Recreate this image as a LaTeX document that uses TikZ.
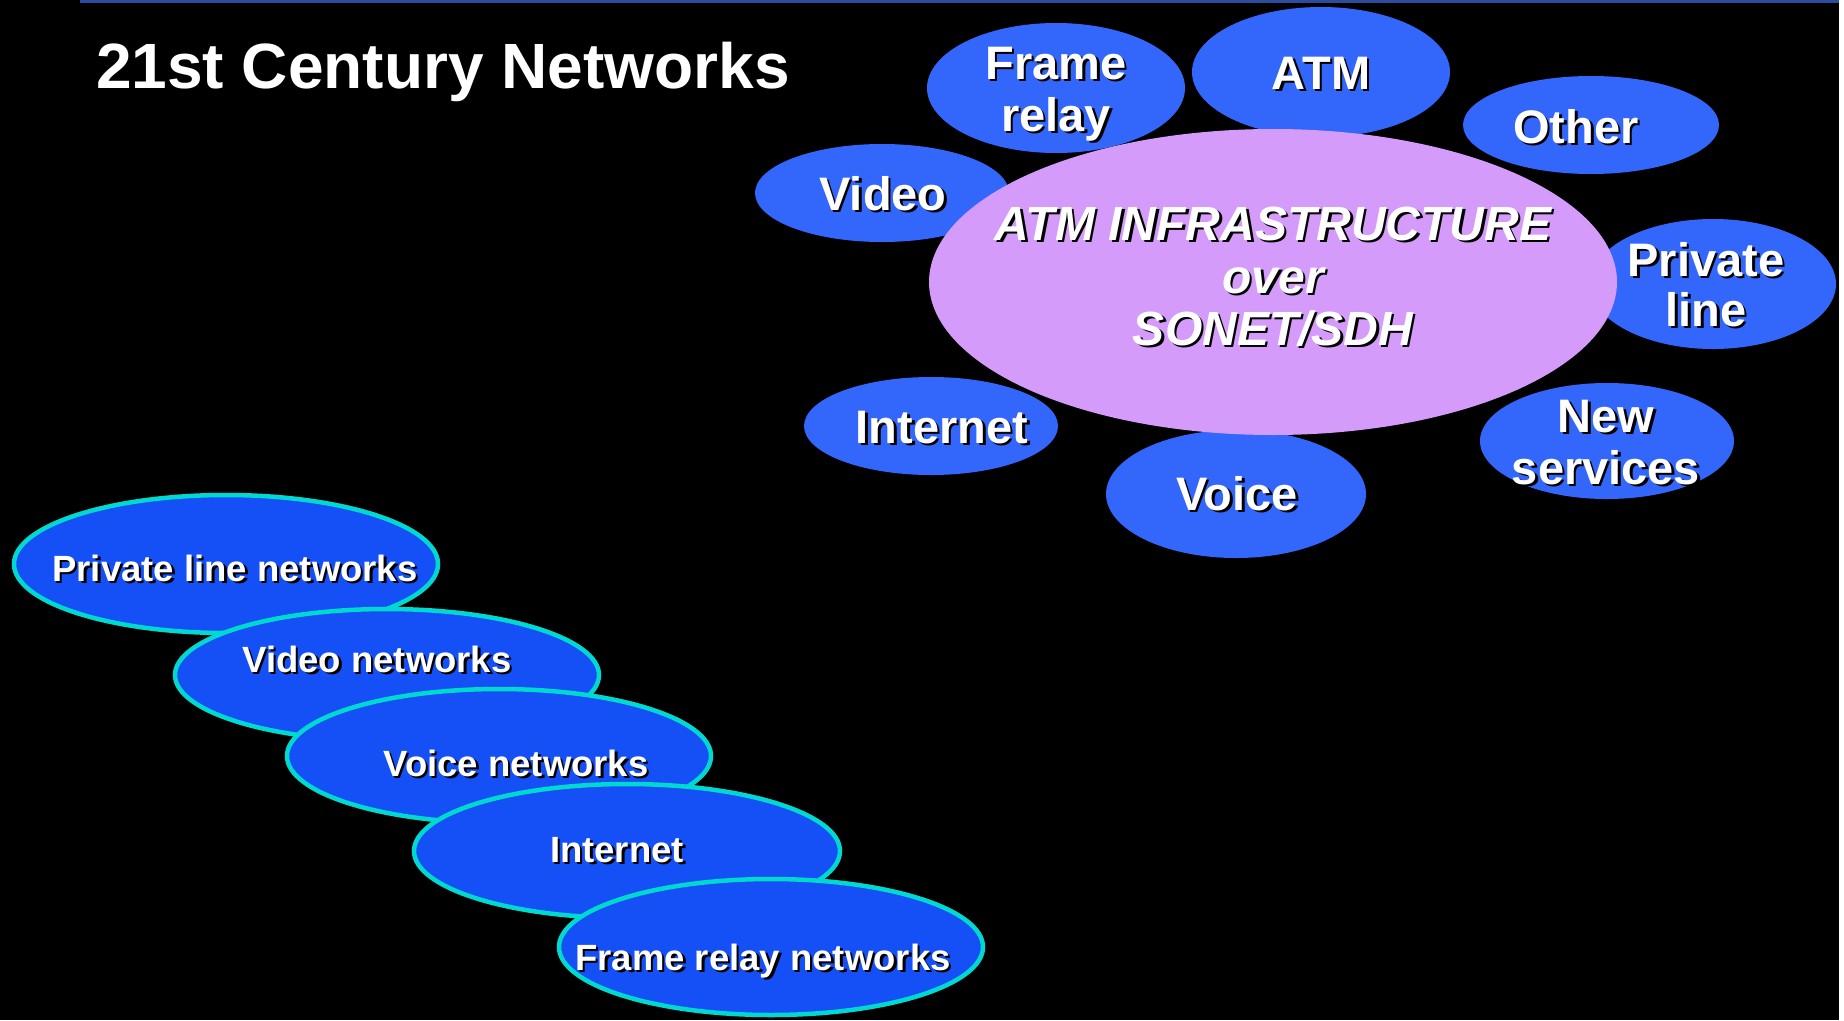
\documentclass[tikz,border=0pt]{standalone}
\usepackage{fontspec}
\setmainfont{Liberation Sans}
\usetikzlibrary{shapes.geometric}
\definecolor{bgblack}{RGB}{0,0,0}
\definecolor{topline}{RGB}{43,76,156}
\definecolor{svcblue}{RGB}{51,102,250}
\definecolor{pinkatm}{RGB}{213,155,250}
\definecolor{netblue}{RGB}{20,80,245}
\definecolor{netcyan}{RGB}{0,216,208}
\tikzset{
  svc/.style={ellipse, fill=svcblue, inner sep=0pt},
  core/.style={ellipse, fill=pinkatm, inner sep=0pt},
  net/.style={ellipse, fill=netblue, draw=netcyan, line width=4.5pt, inner sep=0pt},
  txt/.style={anchor=base, inner sep=0pt, font=\bfseries\fontsize{47}{52}\selectfont},
  coretxt/.style={anchor=base, inner sep=0pt, font=\bfseries\itshape\fontsize{48}{52}\selectfont},
  nettxt/.style={anchor=base, inner sep=0pt, font=\bfseries\fontsize{36.5}{40}\selectfont},
  titletxt/.style={anchor=base west, inner sep=0pt, text=white, font=\bfseries\fontsize{64}{70}\selectfont},
}
% shadowed label: #1 name, #2 style, #3 x, #4 baseline y, #5 text
\newcommand\shlabel[5]{%
  \node[#2, text=black, xshift=2.5pt, yshift=-2.5pt] (#1s) at (#3,#4) {#5};
  \node[#2, text=white] (#1) at (#3,#4) {#5};}
\begin{document}
\begin{tikzpicture}[x=1pt,y=-1pt]
\useasboundingbox (0,0) rectangle (1844,1020);
\fill[bgblack] (0,0) rectangle (1844,1020);
\fill[white] (1839,0) rectangle (1844,1020);
\fill[topline] (80,0) rectangle (1839,3);

% title
\node[titletxt] (title) at (96,88) {21st Century Networks};

% service ellipses
\node[svc, minimum width=258pt, minimum height=130pt] (fr) at (1056,88) {};
\node[svc, minimum width=258pt, minimum height=130pt] (atm) at (1321,72) {};
\node[svc, minimum width=256pt, minimum height=98pt] (oth) at (1591,125) {};
\node[svc, minimum width=254pt, minimum height=98pt] (vid) at (882,193) {};
\node[svc, minimum width=246pt, minimum height=130pt] (pl) at (1713,284) {};
\node[svc, minimum width=254pt, minimum height=116pt] (ns) at (1607,441) {};
\node[svc, minimum width=254pt, minimum height=98pt] (inet) at (931,426) {};
\node[svc, minimum width=260pt, minimum height=128pt] (voi) at (1236,494) {};
\node[core, minimum width=688pt, minimum height=306pt] (core) at (1273,282) {};

% service labels
\shlabel{frA}{txt}{1056}{79}{Frame}
\shlabel{frB}{txt}{1056}{131}{relay}
\shlabel{atmL}{txt}{1321}{89}{ATM}
\shlabel{othL}{txt}{1576}{143}{Other}
\shlabel{vidL}{txt}{883}{210}{Video}
\shlabel{plA}{txt}{1706}{276}{Private}
\shlabel{plB}{txt}{1706}{326}{line}
\shlabel{nsA}{txt}{1606}{432}{New}
\shlabel{nsB}{txt}{1606}{484}{services}
\shlabel{inetL}{txt}{942}{443}{Internet}
\shlabel{voiL}{txt}{1237}{510}{Voice}

% core labels
\shlabel{coreA}{coretxt}{1273}{240}{ATM INFRASTRUCTURE}
\shlabel{coreB}{coretxt}{1273}{293}{over}
\shlabel{coreC}{coretxt}{1273}{345}{SONET/SDH}

% network stack
\node[net, minimum width=424pt, minimum height=138pt] (n1) at (226,564) {};
\shlabel{n1L}{nettxt}{235}{581}{Private line networks}
\node[net, minimum width=424pt, minimum height=132pt] (n2) at (387,675) {};
\shlabel{n2L}{nettxt}{377}{672}{Video networks}
\node[net, minimum width=424pt, minimum height=134pt] (n3) at (499,756) {};
\shlabel{n3L}{nettxt}{516}{776}{Voice networks}
\node[net, minimum width=426pt, minimum height=134pt] (n4) at (627,851) {};
\shlabel{n4L}{nettxt}{617}{862}{Internet}
\node[net, minimum width=424pt, minimum height=136pt] (n5) at (771,947) {};
\shlabel{n5L}{nettxt}{763}{970}{Frame relay networks}
\end{tikzpicture}
\end{document}
